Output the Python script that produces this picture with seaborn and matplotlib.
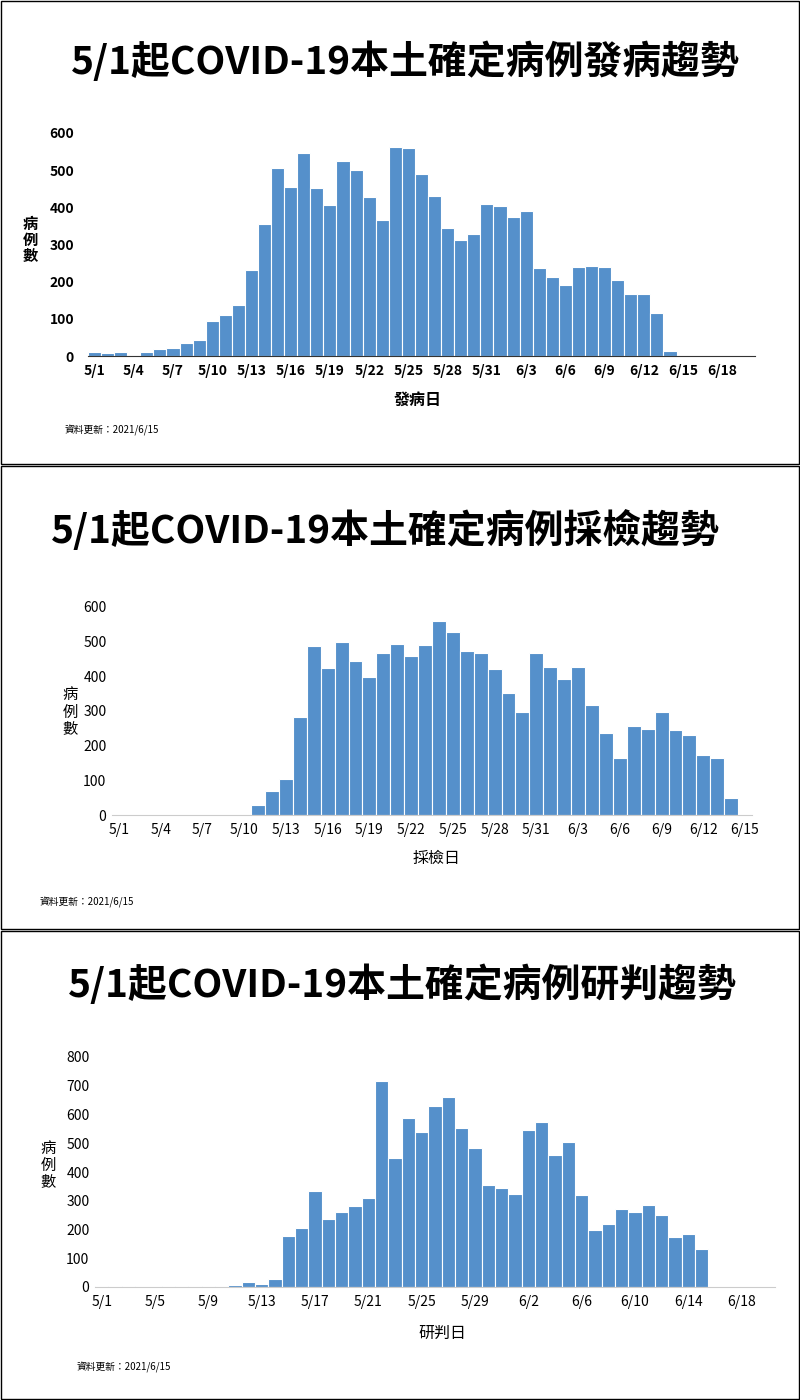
import matplotlib
matplotlib.use("Agg")
import matplotlib.pyplot as plt
import seaborn as sns
import pandas as pd
from matplotlib.patches import Rectangle

FONT = "Noto Sans CJK TC"
plt.rcParams["font.family"] = FONT

# Chart 1: onset date, 5/1 .. 6/14
onset_vals = [12, 8, 10, 0, 10, 20, 22, 35, 42, 95, 110, 137, 232, 355, 505, 455, 545, 452,
              406, 524, 500, 427, 367, 562, 560, 490, 430, 345, 312, 328, 408, 404, 375, 390,
              236, 212, 190, 240, 243, 240, 205, 168, 167, 117, 13]
# Chart 2: sampling date, 5/11 .. 6/14
sample_vals = [28, 68, 103, 282, 488, 423, 500, 445, 397, 468, 492, 460, 490, 560, 527, 474,
               466, 422, 353, 298, 468, 428, 391, 426, 318, 236, 165, 257, 248, 296, 246, 231,
               172, 163, 48]
# Chart 3: confirmation date, 5/1 .. 6/15
confirm_vals = [3, 3, 3, 0, 0, 3, 0, 3, 0, 3, 7, 17, 12, 28, 178, 205, 333, 238, 262, 282, 310,
                718, 450, 588, 538, 630, 662, 552, 482, 355, 345, 325, 545, 575, 460, 503, 320,
                200, 220, 272, 260, 285, 250, 173, 185, 133]

titles = ["5/1起COVID-19本土確定病例發病趨勢",
          "5/1起COVID-19本土確定病例採檢趨勢",
          "5/1起COVID-19本土確定病例研判趨勢"]
xlabels = ["發病日", "採檢日", "研判日"]
note = "資料更新：2021/6/15"

dates = pd.date_range("2021-05-01", "2021-06-20")
labels_all = [f"{d.month}/{d.day}" for d in dates]

W, H = 800, 1400
fig = plt.figure(figsize=(8, 14), dpi=100)
color = "#5590CB"

def fx(x): return x / W
def fy(y): return 1 - y / H

panels = [
    dict(vals=onset_vals, start=0, n=51, step=3, box=(88, 133, 755, 356), ymax=600, ystep=100,
         bold=True, ylab=(30, 240), xlab=(418, 400), note=(65, 430), title=(405, 62), ty=(0, 465), pad=10),
    dict(vals=sample_vals, start=10, n=46, step=3, box=(112, 607, 752, 815), ymax=600, ystep=100,
         bold=False, ylab=(70, 712), xlab=(437, 858), note=(40, 902), title=(385, 530), ty=(465, 930), pad=4),
    dict(vals=confirm_vals, start=0, n=51, step=4, box=(95, 1057, 775, 1287), ymax=800, ystep=100,
         bold=False, ylab=(48, 1165), xlab=(442, 1333), note=(77, 1367), title=(402, 985), ty=(930, 1400), pad=4),
]

for i, p in enumerate(panels):
    y0, y1 = p["ty"]
    fig.patches.append(Rectangle((fx(1), fy(y1 - 1)), fx(W - 2), (y1 - y0 - 2) / H,
                                 transform=fig.transFigure, fill=False, edgecolor="black", lw=1.0))
    x0, yt, x1, yb = p["box"]
    ax = fig.add_axes([fx(x0), fy(yb), fx(x1 - x0), (yb - yt) / H])
    idx = list(range(p["start"], p["start"] + len(p["vals"])))
    df = pd.DataFrame({"x": idx, "y": p["vals"]})
    sns.barplot(data=df, x="x", y="y", native_scale=True, color=color, width=1.0,
                edgecolor="white", linewidth=0.8, saturation=1, ax=ax)
    ax.set_xlim(-0.5, p["n"] - 0.5)
    ax.set_ylim(0, p["ymax"])
    ax.set_yticks(range(0, p["ymax"] + 1, p["ystep"]))
    ticks = list(range(0, p["n"], p["step"]))
    ax.set_xticks(ticks)
    fw = "bold" if p["bold"] else "normal"
    ax.set_xticklabels([labels_all[t] for t in ticks], fontsize=10, fontweight=fw)
    for lab in ax.get_yticklabels():
        lab.set_fontsize(10); lab.set_fontweight(fw)
    ax.tick_params(axis="y", length=0, pad=p["pad"])
    ax.tick_params(axis="x", length=0, pad=6)
    for s in ["top", "right", "left"]:
        ax.spines[s].set_visible(False)
    ax.spines["bottom"].set_color("#333333" if p["bold"] else "#cccccc")
    ax.set_xlabel(""); ax.set_ylabel("")
    ax.set_facecolor("none")
    fig.text(fx(p["ylab"][0]), fy(p["ylab"][1]), "病\n例\n數", ha="center", va="center",
             fontsize=11, fontweight=fw, linespacing=1.0)
    fig.text(fx(p["xlab"][0]), fy(p["xlab"][1]), xlabels[i], ha="center", va="center",
             fontsize=11.5, fontweight=fw)
    fig.text(fx(p["note"][0]), fy(p["note"][1]), note, ha="left", va="center", fontsize=7)
    fig.text(fx(p["title"][0]), fy(p["title"][1]), titles[i], ha="center", va="center",
             fontsize=28, fontweight="bold")

fig.savefig("out.png", dpi=100, facecolor="white")
